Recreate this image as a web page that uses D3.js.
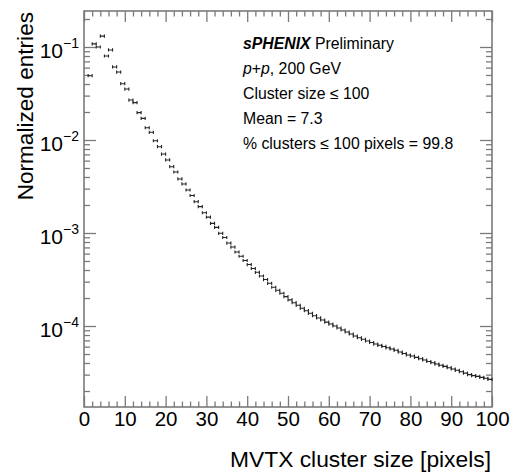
<!DOCTYPE html>
<html>
<head>
<meta charset="utf-8">
<script src="https://cdn.jsdelivr.net/npm/d3@7"></script>
<style>
  html, body { margin: 0; padding: 0; background: #fff; }
  svg { display: block; }
  text { font-family: "Liberation Sans", Arial, Helvetica, sans-serif; }
</style>
</head>
<body>
<svg id="chart" width="513" height="473"></svg>
<script>
// ---- data ----
const clusterSize = [1,2,3,4,5,6,7,8,9,10,11,12,13,14,15,16,17,18,19,20,
  21,22,23,24,25,26,27,28,29,30,31,32,33,34,35,36,37,38,39,40,
  41,42,43,44,45,46,47,48,49,50,51,52,53,54,55,56,57,58,59,60,
  61,62,63,64,65,66,67,68,69,70,71,72,73,74,75,76,77,78,79,80,
  81,82,83,84,85,86,87,88,89,90,91,92,93,94,95,96,97,98,99];
const entries = [0.0491,0.108,0.100,0.131,0.080,0.093,0.061,0.0538,0.0403,0.0353,
  0.0269,0.0252,0.0197,0.0171,0.01355,0.0121,0.00982,0.00847,0.00706,0.00610,
  0.00516,0.00453,0.00381,0.00337,0.00290,0.00253,0.00217,0.00192,0.00165,0.00148,
  0.00127,0.00115,0.000993,0.000895,0.000780,0.000706,0.000625,0.000562,0.000506,0.000458,
  0.000415,0.000378,0.000345,0.000316,0.000288,0.000261,0.000242,0.000225,0.000207,0.000191,
  0.000178,0.000167,0.000155,0.000146,0.000137,0.000129,0.000122,0.000116,0.000110,0.000105,
  1.00e-4,9.52e-5,9.06e-5,8.62e-5,8.20e-5,7.80e-5,7.48e-5,7.19e-5,6.90e-5,6.65e-5,
  6.40e-5,6.20e-5,6.03e-5,5.83e-5,5.66e-5,5.48e-5,5.25e-5,5.06e-5,4.88e-5,4.75e-5,
  4.60e-5,4.45e-5,4.31e-5,4.15e-5,4.03e-5,3.90e-5,3.78e-5,3.68e-5,3.56e-5,3.45e-5,
  3.34e-5,3.22e-5,3.11e-5,3.00e-5,2.93e-5,2.87e-5,2.80e-5,2.74e-5,2.67e-5];
const binWidth = 1;
const xMajorTicks = [0,10,20,30,40,50,60,70,80,90,100];
const yMajorTicks = [1e-4,1e-3,1e-2,1e-1];
const yExponents = ["\u22124","\u22123","\u22122","\u22121"];
const xDomain = [0, 100];
const yDomain = [1.346e-5, 0.2438];
const xTitle = "MVTX cluster size [pixels]";
const yTitle = "Normalized entries";
const legendLines = [
  [{t:"sPHENIX", s:"bi"}, {t:" Preliminary", s:""}],
  [{t:"p", s:"i"}, {t:"+", s:""}, {t:"p", s:"i"}, {t:", 200 GeV", s:""}],
  [{t:"Cluster size \u2264 100", s:""}],
  [{t:"Mean = 7.3", s:""}],
  [{t:"% clusters \u2264 100 pixels = 99.8", s:""}]
];

// ---- layout ----
const L = 84, R = 492, T = 11, B = 407;
const svg = d3.select("#chart");
const x = d3.scaleLinear().domain(xDomain).range([L, R]);
const y = d3.scaleLog().domain(yDomain).range([B, T]);

const axisColor = "#7a7a7a";

// minor ticks
const xMinor = d3.range(0, 101, 2).filter(v => v % 10 !== 0);
const yMinor = [];
for (let e = -5; e <= 0; e++) for (let m = 2; m <= 9; m++) {
  const v = m * Math.pow(10, e);
  if (v > yDomain[0] && v < yDomain[1]) yMinor.push(v);
}

function styleAxis(g) {
  g.select(".domain").remove();
  g.selectAll(".tick line").attr("stroke", axisColor).attr("stroke-width", 1.3);
}

// bottom
svg.append("g").attr("transform", `translate(0,${B})`)
  .call(d3.axisBottom(x).tickValues(xMajorTicks).tickSize(-11).tickFormat(d3.format("d")))
  .call(styleAxis)
  .call(g => g.selectAll("text").attr("y", 19).attr("dy", 0)
    .attr("font-size", 20.5).attr("fill", "#000")
    .attr("font-family", "'Liberation Sans', Arial, sans-serif"));
svg.append("g").attr("transform", `translate(0,${B})`)
  .call(d3.axisBottom(x).tickValues(xMinor).tickSize(-5.5).tickFormat(""))
  .call(styleAxis);
// top
svg.append("g").attr("transform", `translate(0,${T})`)
  .call(d3.axisTop(x).tickValues(xMajorTicks).tickSize(-11).tickFormat(""))
  .call(styleAxis);
svg.append("g").attr("transform", `translate(0,${T})`)
  .call(d3.axisTop(x).tickValues(xMinor).tickSize(-5.5).tickFormat(""))
  .call(styleAxis);
// left
svg.append("g").attr("transform", `translate(${L},0)`)
  .call(d3.axisLeft(y).tickValues(yMajorTicks).tickSize(-12).tickFormat(""))
  .call(styleAxis);
svg.append("g").attr("transform", `translate(${L},0)`)
  .call(d3.axisLeft(y).tickValues(yMinor).tickSize(-6).tickFormat(""))
  .call(styleAxis);
// right
svg.append("g").attr("transform", `translate(${R},0)`)
  .call(d3.axisRight(y).tickValues(yMajorTicks).tickSize(-12).tickFormat(""))
  .call(styleAxis);
svg.append("g").attr("transform", `translate(${R},0)`)
  .call(d3.axisRight(y).tickValues(yMinor).tickSize(-6).tickFormat(""))
  .call(styleAxis);

// y tick labels (10^n)
const ylab = svg.append("g");
yMajorTicks.forEach((v, i) => {
  const t = ylab.append("text")
    .attr("x", 79).attr("y", y(v) + 11)
    .attr("text-anchor", "end").attr("fill", "#000");
  t.append("tspan").attr("font-size", 21).text("10");
  t.append("tspan").attr("font-size", 14).attr("dy", -10).text(yExponents[i]);
});

// frame
svg.append("rect").attr("x", L).attr("y", T).attr("width", R - L).attr("height", B - T)
  .attr("fill", "none").attr("stroke", axisColor).attr("stroke-width", 1.6);

// data markers: horizontal bin-width line with end caps
const data = clusterSize.map((c, i) => ({c, v: entries[i]}));
const mk = svg.append("g").attr("stroke", "#222").attr("stroke-width", 1.1).attr("fill", "none");
mk.selectAll("path").data(data).join("path")
  .attr("d", d => {
    const x0 = x(d.c), x1 = x(d.c + binWidth), yy = y(d.v);
    return `M${x0},${yy}H${x1}M${x0},${yy-1.6}V${yy+1.6}M${x1},${yy-1.6}V${yy+1.6}`;
  });

// axis titles
svg.append("text").attr("x", 491).attr("y", 467).attr("text-anchor", "end")
  .attr("font-size", 22.8).attr("fill", "#000").text(xTitle);
svg.append("text").attr("transform", "translate(33,12) rotate(-90)")
  .attr("text-anchor", "end").attr("font-size", 22.6).attr("fill", "#000").text(yTitle);

// legend text
const lg = svg.append("g");
legendLines.forEach((line, i) => {
  const t = lg.append("text").attr("x", 243).attr("y", 48.5 + i * 25)
    .attr("font-size", 15.8).attr("fill", "#000");
  line.forEach(seg => {
    const ts = t.append("tspan").text(seg.t);
    if (seg.s.includes("b")) ts.attr("font-weight", "bold");
    if (seg.s.includes("i")) ts.attr("font-style", "italic");
  });
});
</script>
</body>
</html>
